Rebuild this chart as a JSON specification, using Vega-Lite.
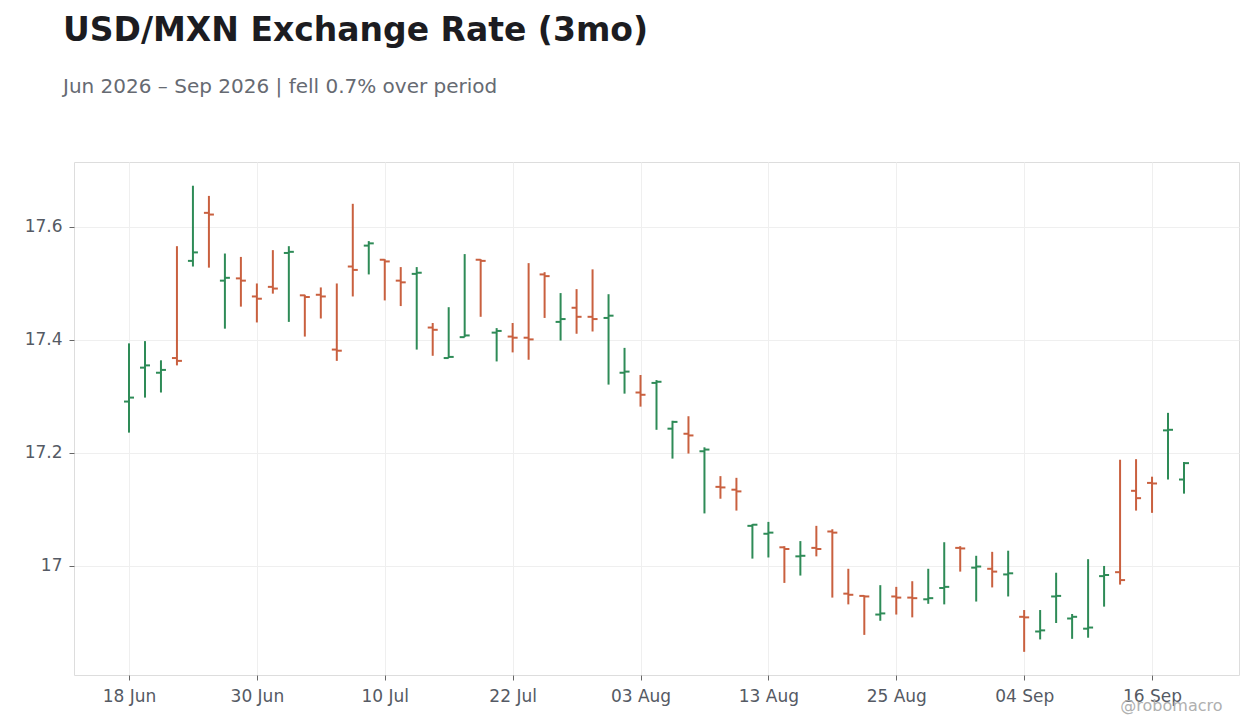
{
  "$schema": "https://vega.github.io/schema/vega-lite/v6.json",
  "autosize": {"type": "none"},
  "padding": {"left": 74, "top": 162, "right": 21, "bottom": 53},
  "width": 1165,
  "height": 513,
  "background": "#ffffff",
  "title": {
    "text": "USD/MXN Exchange Rate (3mo)",
    "subtitle": "Jun 2026 – Sep 2026 | fell 0.7% over period",
    "anchor": "start",
    "frame": "group",
    "dx": -11,
    "offset": 65,
    "fontSize": 33,
    "fontWeight": "bold",
    "color": "#1c1c21",
    "subtitleFontSize": 20,
    "subtitleColor": "#666a72",
    "subtitlePadding": 29,
    "font": "DejaVu Sans",
    "subtitleFont": "DejaVu Sans"
  },
  "config": {
    "font": "DejaVu Sans",
    "view": {"stroke": "#dddddd", "strokeWidth": 1},
    "axis": {
      "gridColor": "#efefef",
      "gridWidth": 1,
      "domain": false,
      "tickColor": "#666666",
      "tickSize": 5,
      "labelFontSize": 17,
      "labelColor": "#555a64",
      "labelFont": "DejaVu Sans"
    }
  },
  "data": {
    "values": [
      {"i": 0, "date": "2026-06-18", "o": 17.291, "h": 17.394, "l": 17.236, "c": 17.298},
      {"i": 1, "date": "2026-06-19", "o": 17.351, "h": 17.398, "l": 17.298, "c": 17.355},
      {"i": 2, "date": "2026-06-22", "o": 17.342, "h": 17.364, "l": 17.307, "c": 17.347},
      {"i": 3, "date": "2026-06-23", "o": 17.368, "h": 17.566, "l": 17.355, "c": 17.363},
      {"i": 4, "date": "2026-06-24", "o": 17.540, "h": 17.673, "l": 17.530, "c": 17.555},
      {"i": 5, "date": "2026-06-25", "o": 17.625, "h": 17.655, "l": 17.528, "c": 17.622},
      {"i": 6, "date": "2026-06-26", "o": 17.505, "h": 17.553, "l": 17.420, "c": 17.510},
      {"i": 7, "date": "2026-06-29", "o": 17.509, "h": 17.547, "l": 17.459, "c": 17.505},
      {"i": 8, "date": "2026-06-30", "o": 17.477, "h": 17.500, "l": 17.431, "c": 17.473},
      {"i": 9, "date": "2026-07-01", "o": 17.494, "h": 17.559, "l": 17.482, "c": 17.491},
      {"i": 10, "date": "2026-07-02", "o": 17.554, "h": 17.566, "l": 17.432, "c": 17.556},
      {"i": 11, "date": "2026-07-03", "o": 17.479, "h": 17.480, "l": 17.406, "c": 17.476},
      {"i": 12, "date": "2026-07-06", "o": 17.480, "h": 17.493, "l": 17.438, "c": 17.477},
      {"i": 13, "date": "2026-07-07", "o": 17.383, "h": 17.500, "l": 17.363, "c": 17.381},
      {"i": 14, "date": "2026-07-08", "o": 17.530, "h": 17.641, "l": 17.477, "c": 17.524},
      {"i": 15, "date": "2026-07-09", "o": 17.567, "h": 17.575, "l": 17.516, "c": 17.571},
      {"i": 16, "date": "2026-07-10", "o": 17.542, "h": 17.543, "l": 17.470, "c": 17.539},
      {"i": 17, "date": "2026-07-13", "o": 17.505, "h": 17.529, "l": 17.460, "c": 17.502},
      {"i": 18, "date": "2026-07-14", "o": 17.517, "h": 17.529, "l": 17.383, "c": 17.519},
      {"i": 19, "date": "2026-07-15", "o": 17.422, "h": 17.430, "l": 17.372, "c": 17.418},
      {"i": 20, "date": "2026-07-16", "o": 17.368, "h": 17.458, "l": 17.368, "c": 17.370},
      {"i": 21, "date": "2026-07-17", "o": 17.405, "h": 17.552, "l": 17.405, "c": 17.408},
      {"i": 22, "date": "2026-07-20", "o": 17.542, "h": 17.543, "l": 17.441, "c": 17.540},
      {"i": 23, "date": "2026-07-21", "o": 17.413, "h": 17.421, "l": 17.362, "c": 17.416},
      {"i": 24, "date": "2026-07-22", "o": 17.406, "h": 17.430, "l": 17.378, "c": 17.404},
      {"i": 25, "date": "2026-07-23", "o": 17.404, "h": 17.536, "l": 17.365, "c": 17.401},
      {"i": 26, "date": "2026-07-24", "o": 17.516, "h": 17.520, "l": 17.439, "c": 17.513},
      {"i": 27, "date": "2026-07-27", "o": 17.432, "h": 17.483, "l": 17.399, "c": 17.437},
      {"i": 28, "date": "2026-07-28", "o": 17.457, "h": 17.490, "l": 17.411, "c": 17.441},
      {"i": 29, "date": "2026-07-29", "o": 17.441, "h": 17.525, "l": 17.415, "c": 17.437},
      {"i": 30, "date": "2026-07-30", "o": 17.439, "h": 17.481, "l": 17.321, "c": 17.443},
      {"i": 31, "date": "2026-07-31", "o": 17.342, "h": 17.386, "l": 17.305, "c": 17.344},
      {"i": 32, "date": "2026-08-03", "o": 17.307, "h": 17.338, "l": 17.282, "c": 17.303},
      {"i": 33, "date": "2026-08-04", "o": 17.324, "h": 17.329, "l": 17.241, "c": 17.326},
      {"i": 34, "date": "2026-08-05", "o": 17.243, "h": 17.257, "l": 17.190, "c": 17.255},
      {"i": 35, "date": "2026-08-06", "o": 17.234, "h": 17.265, "l": 17.199, "c": 17.231},
      {"i": 36, "date": "2026-08-07", "o": 17.203, "h": 17.210, "l": 17.093, "c": 17.206},
      {"i": 37, "date": "2026-08-10", "o": 17.140, "h": 17.159, "l": 17.119, "c": 17.139},
      {"i": 38, "date": "2026-08-11", "o": 17.135, "h": 17.156, "l": 17.098, "c": 17.132},
      {"i": 39, "date": "2026-08-12", "o": 17.071, "h": 17.074, "l": 17.013, "c": 17.073},
      {"i": 40, "date": "2026-08-13", "o": 17.057, "h": 17.078, "l": 17.015, "c": 17.059},
      {"i": 41, "date": "2026-08-14", "o": 17.033, "h": 17.035, "l": 16.970, "c": 17.030},
      {"i": 42, "date": "2026-08-17", "o": 17.017, "h": 17.044, "l": 16.983, "c": 17.018},
      {"i": 43, "date": "2026-08-18", "o": 17.032, "h": 17.071, "l": 17.017, "c": 17.030},
      {"i": 44, "date": "2026-08-19", "o": 17.061, "h": 17.065, "l": 16.944, "c": 17.059},
      {"i": 45, "date": "2026-08-20", "o": 16.951, "h": 16.995, "l": 16.932, "c": 16.949},
      {"i": 46, "date": "2026-08-21", "o": 16.947, "h": 16.948, "l": 16.878, "c": 16.946},
      {"i": 47, "date": "2026-08-24", "o": 16.914, "h": 16.966, "l": 16.903, "c": 16.916},
      {"i": 48, "date": "2026-08-25", "o": 16.946, "h": 16.963, "l": 16.914, "c": 16.944},
      {"i": 49, "date": "2026-08-26", "o": 16.944, "h": 16.973, "l": 16.909, "c": 16.943},
      {"i": 50, "date": "2026-08-27", "o": 16.941, "h": 16.995, "l": 16.933, "c": 16.943},
      {"i": 51, "date": "2026-08-28", "o": 16.961, "h": 17.042, "l": 16.932, "c": 16.963},
      {"i": 52, "date": "2026-08-31", "o": 17.032, "h": 17.035, "l": 16.990, "c": 17.031},
      {"i": 53, "date": "2026-09-01", "o": 16.997, "h": 17.018, "l": 16.937, "c": 16.999},
      {"i": 54, "date": "2026-09-02", "o": 16.995, "h": 17.025, "l": 16.962, "c": 16.990},
      {"i": 55, "date": "2026-09-03", "o": 16.985, "h": 17.027, "l": 16.946, "c": 16.987},
      {"i": 56, "date": "2026-09-04", "o": 16.910, "h": 16.922, "l": 16.848, "c": 16.909},
      {"i": 57, "date": "2026-09-07", "o": 16.884, "h": 16.922, "l": 16.870, "c": 16.886},
      {"i": 58, "date": "2026-09-08", "o": 16.946, "h": 16.988, "l": 16.899, "c": 16.947},
      {"i": 59, "date": "2026-09-09", "o": 16.907, "h": 16.915, "l": 16.871, "c": 16.910},
      {"i": 60, "date": "2026-09-10", "o": 16.889, "h": 17.012, "l": 16.873, "c": 16.891},
      {"i": 61, "date": "2026-09-11", "o": 16.982, "h": 17.000, "l": 16.928, "c": 16.984},
      {"i": 62, "date": "2026-09-14", "o": 16.989, "h": 17.188, "l": 16.967, "c": 16.975},
      {"i": 63, "date": "2026-09-15", "o": 17.133, "h": 17.189, "l": 17.098, "c": 17.120},
      {"i": 64, "date": "2026-09-16", "o": 17.147, "h": 17.158, "l": 17.094, "c": 17.146},
      {"i": 65, "date": "2026-09-17", "o": 17.240, "h": 17.271, "l": 17.153, "c": 17.241},
      {"i": 66, "date": "2026-09-18", "o": 17.153, "h": 17.184, "l": 17.128, "c": 17.182}
    ]
  },
  "encoding": {
    "x": {
      "field": "i",
      "type": "quantitative",
      "scale": {"domain": [-3.44, 69.44], "nice": false, "zero": false},
      "axis": {
        "values": [0, 8, 16, 24, 32, 40, 48, 56, 64],
        "labelExpr": "['18 Jun','30 Jun','10 Jul','22 Jul','03 Aug','13 Aug','25 Aug','04 Sep','16 Sep'][round(datum.value / 8)]",
        "labelPadding": 8,
        "title": "@robomacro",
        "titleX": 1148,
        "titleY": 35,
        "titleAlign": "right",
        "titleBaseline": "alphabetic",
        "titleFontSize": 16,
        "titleFontWeight": "normal",
        "titleColor": "#b0b0b0",
        "titleFont": "DejaVu Sans"
      }
    },
    "color": {
      "condition": {"test": "datum.c >= datum.o", "value": "#2e8b57"},
      "value": "#c9603f"
    }
  },
  "layer": [
    {
      "mark": {"type": "rule", "strokeWidth": 2},
      "encoding": {
        "y": {
          "field": "l",
          "type": "quantitative",
          "scale": {"domain": [16.807, 17.715], "nice": false, "zero": false},
          "axis": {
            "values": [17, 17.2, 17.4, 17.6],
            "format": "~g",
            "labelPadding": 7,
            "title": null
          }
        },
        "y2": {"field": "h"}
      }
    },
    {
      "mark": {"type": "tick", "orient": "horizontal", "size": 5, "thickness": 2, "xOffset": -2.5, "opacity": 1},
      "encoding": {
        "y": {"field": "o", "type": "quantitative"}
      }
    },
    {
      "mark": {"type": "tick", "orient": "horizontal", "size": 5, "thickness": 2, "xOffset": 2.5, "opacity": 1},
      "encoding": {
        "y": {"field": "c", "type": "quantitative"}
      }
    }
  ]
}
